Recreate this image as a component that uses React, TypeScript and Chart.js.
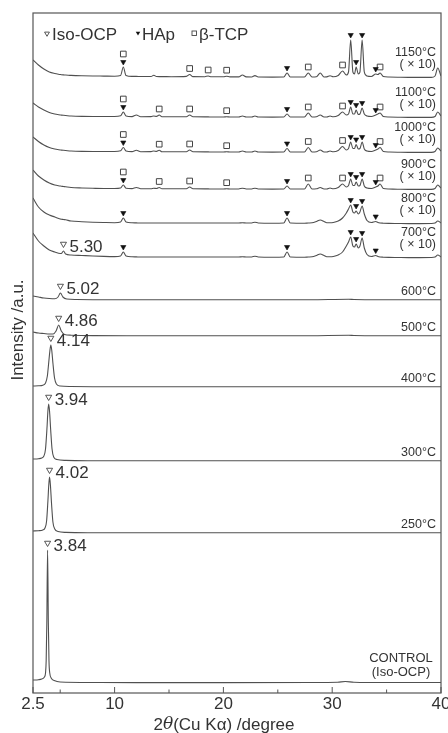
import React, { useEffect, useRef } from 'react';
import { Chart, registerables } from 'chart.js';

Chart.register(...registerables);

// ---------- data ----------
// shared 2θ grid for the heated (HAp / β-TCP) patterns
const HT_X = [
  2.5, 3, 3.5, 4, 4.5, 5, 5.1, 5.3, 5.5, 6,
  7, 8, 9, 10, 10.55, 10.8, 11.05, 11.6, 12.0, 12.4,
  13.35, 13.6, 13.85, 14.1, 14.35, 15.2, 16.6, 16.9, 17.2, 18.3,
  18.6, 18.9, 20.0, 20.3, 20.6, 21.4, 21.75, 22.1, 22.6, 22.9,
  23.2, 24.5, 25.55, 25.85, 26.15, 27.45, 27.8, 28.15, 28.55, 28.9,
  29.25, 29.5, 29.8, 30.1, 30.55, 30.95, 31.3, 31.5, 31.7, 31.9,
  32.05, 32.2, 32.4, 32.55, 32.75, 32.95, 33.2, 33.6, 34.0, 34.2,
  34.4, 34.7, 35.2, 36, 37, 38, 39.1, 39.45, 39.7, 40,
];

const I_1150 = [
  18, 13, 9, 6, 4.5, 3.5, 3.3, 3.1, 3, 2.6,
  2.2, 2, 1.9, 1.8, 2.5, 11, 2.5, 1.6, 1.6, 1.5,
  1.5, 2.8, 1.5, 1.4, 1.4, 1.3, 1.6, 3.5, 1.4, 1.3,
  2, 1.2, 1.2, 1.8, 1.1, 1.1, 3, 1.1, 1, 2.4,
  1, 0.9, 1, 5, 1, 1, 5, 1, 1.2, 5,
  1, 1.1, 2.2, 1.2, 2.5, 7, 3, 6, 38, 6,
  4, 11, 4, 6, 38, 6, 2, 1.5, 4, 3.5,
  5, 1.5, 1, 0.8, 0.6, 0.6, 0.6, 2, 10, 2,
];
const I_1100 = [
  15, 11, 8, 5.5, 4, 3, 2.9, 2.7, 2.5, 2,
  1.6, 1.5, 1.5, 1.5, 2.2, 6, 2, 1.4, 3, 1.3,
  1.4, 2, 1.6, 3, 1.3, 1.2, 1.3, 3, 1.2, 1.1,
  1.1, 1, 1, 1.3, 1, 1, 2, 1, 1, 2,
  1, 0.9, 1, 4, 1, 1, 5, 1, 1.2, 3,
  1, 1, 2, 1.2, 2.5, 6, 3, 4, 11, 4,
  4, 8, 3.5, 4, 10, 4, 2, 1.5, 3, 4,
  5, 1.5, 1, 0.8, 0.6, 0.6, 0.6, 1.5, 6, 2,
];
const I_1000 = [
  16, 11.5, 8, 5.5, 4, 3, 2.9, 2.7, 2.5, 2,
  1.6, 1.5, 1.5, 1.5, 2.2, 5.5, 2, 1.4, 2.8, 1.3,
  1.4, 2, 1.6, 2.8, 1.3, 1.2, 1.3, 3, 1.2, 1.1,
  1.1, 1, 1, 1.3, 1, 1, 2, 1, 1, 2,
  1, 0.9, 1, 4.5, 1, 1, 5.5, 1, 1.2, 3,
  1, 1, 2, 1.2, 2.5, 6.5, 3, 4.5, 11, 4.5,
  4.5, 8.5, 4, 4.5, 11, 4, 2, 1.5, 3, 4,
  5.5, 1.5, 1, 0.8, 0.6, 0.6, 0.6, 1.5, 5, 2,
];
const I_900 = [
  20, 14, 10, 7, 5, 4, 3.8, 3.5, 3.2, 2.5,
  2, 1.7, 1.5, 1.5, 2, 5, 1.8, 1.4, 2.5, 1.3,
  1.3, 1.8, 1.5, 2.5, 1.3, 1.2, 1.3, 3, 1.2, 1.1,
  1.1, 1, 1, 1.3, 1, 1, 1.8, 1, 1, 1.8,
  1, 0.9, 1, 4, 1, 1, 6, 1, 1.2, 2.5,
  1, 1, 2, 1.2, 2.5, 6, 3, 4.5, 11, 4.5,
  4.5, 8, 4, 4.5, 11, 4, 2, 1.5, 3, 4,
  6, 1.5, 1, 0.8, 0.6, 0.6, 0.6, 1.5, 5, 2,
];
const I_800 = [
  26, 17, 12, 9, 7, 5, 4.8, 4.5, 4.2, 3,
  2.3, 1.8, 1.5, 1.3, 2, 6, 2, 1.2, 1.1, 1,
  1, 1, 1, 1, 1, 1, 1, 1, 1, 1,
  1, 1, 1, 1, 1, 1, 1.3, 1, 1, 1.8,
  1, 0.8, 1, 6, 1, 0.8, 1, 1.2, 2.5, 4,
  2.5, 1.2, 1.2, 1.5, 3, 6, 11, 15, 19, 12,
  11, 13, 10, 12, 18, 10, 3.5, 1.5, 2.5, 1.5,
  1, 0.8, 0.6, 0.5, 0.4, 0.4, 0.5, 1, 3, 1,
];
const I_700 = [
  25, 17, 12, 8, 6, 4.5, 4.5, 7, 4, 3,
  2.5, 2, 1.6, 1.4, 2, 6, 2, 1.2, 1.1, 1,
  1, 1, 1, 1, 1, 1, 1, 1, 1, 1,
  1, 1, 1, 1, 1, 1, 1.3, 1, 1, 1.8,
  1, 0.8, 1, 6, 1, 0.8, 1, 1.2, 2.5, 4,
  2.5, 1.2, 1.2, 1.5, 3, 6, 12, 16, 21, 12,
  11, 14, 10, 12, 20, 10, 3.5, 1.5, 2.5, 1.5,
  1, 0.8, 0.6, 0.5, 0.4, 0.4, 0.5, 1, 3, 1,
];

const X_600 = [2.5, 3, 3.5, 4, 4.5, 4.8, 5.02, 5.25, 5.6, 6.5, 8, 12, 20, 28, 31.5, 32, 33, 36, 40];
const I_600 = [4, 3, 2, 1.5, 1.3, 3, 7, 3, 1, 0.5, 0.3, 0.2, 0.2, 0.3, 0.8, 0.5, 0.3, 0.2, 0.2];

const X_500 = [2.5, 3, 3.5, 4, 4.35, 4.62, 4.86, 5.1, 5.4, 6, 8, 12, 20, 28, 31.5, 32, 33, 36, 40];
const I_500 = [4, 3, 2.5, 2, 2, 5, 11, 5, 1.5, 0.8, 0.4, 0.3, 0.2, 0.3, 0.7, 0.5, 0.3, 0.2, 0.2];

const X_400 = [2.5, 3, 3.4, 3.65, 3.82, 3.95, 4.05, 4.14, 4.23, 4.33, 4.48, 4.65, 5, 6, 8, 12, 20, 30, 40];
const I_400 = [1, 1.2, 1.8, 4, 11, 25, 36, 42, 36, 24, 9, 3, 1, 0.5, 0.3, 0.2, 0.2, 0.2, 0.2];

const X_300 = [2.5, 3, 3.3, 3.5, 3.65, 3.78, 3.87, 3.94, 4.02, 4.12, 4.25, 4.4, 4.7, 5.5, 8, 12, 20, 30, 40];
const I_300 = [2, 2.3, 3, 5, 12, 32, 50, 57, 50, 32, 12, 4, 1.5, 0.6, 0.3, 0.2, 0.2, 0.3, 0.2];

const X_250 = [2.5, 3, 3.4, 3.6, 3.75, 3.87, 3.95, 4.02, 4.1, 4.2, 4.33, 4.5, 4.8, 5.5, 8, 12, 20, 30, 40];
const I_250 = [2, 2.3, 3, 5, 12, 32, 48, 56, 48, 30, 11, 4, 1.5, 0.6, 0.3, 0.2, 0.2, 0.3, 0.2];

const X_CTRL = [2.5, 3, 3.3, 3.55, 3.65, 3.71, 3.77, 3.84, 3.91, 3.97, 4.04, 4.2, 4.45, 5, 8, 12, 20, 28, 30.5, 31.2, 32, 35, 40];
const I_CTRL = [3, 3.3, 4, 6, 10, 22, 60, 133, 60, 22, 10, 4.5, 2.5, 1, 0.5, 0.4, 0.4, 0.5, 0.8, 1.5, 0.8, 0.5, 0.5];

const TRACE_NAMES = ['1150°C', '1100°C', '1000°C', '900°C', '800°C', '700°C', '600°C', '500°C', '400°C', '300°C', '250°C', 'CONTROL'];
const TRACE_X = [HT_X, HT_X, HT_X, HT_X, HT_X, HT_X, X_600, X_500, X_400, X_300, X_250, X_CTRL];
const TRACE_I = [I_1150, I_1100, I_1000, I_900, I_800, I_700, I_600, I_500, I_400, I_300, I_250, I_CTRL];
const TRACE_OFFSETS = [615, 575, 540, 503, 469, 435, 393, 357, 306, 232, 160, 10];
const SCALED_NOTE = '( × 10)';
const SCALED_COUNT = 6;
const CONTROL_NOTE = '(Iso-OCP)';

const HAP_PEAKS = [10.8, 25.85, 31.7, 32.2, 32.75, 34.0];
const HAP_TRACES = [0, 1, 2, 3, 4, 5];
const TCP_PEAKS_1150 = [10.8, 16.9, 18.6, 20.3, 27.8, 30.95, 34.4];
const TCP_PEAKS_900_1100 = [10.8, 14.1, 16.9, 20.3, 27.8, 30.95, 34.4];
const TCP_PEAKS_BY_TRACE = [TCP_PEAKS_1150, TCP_PEAKS_900_1100, TCP_PEAKS_900_1100, TCP_PEAKS_900_1100];

const OCP_TRACES = [5, 6, 7, 8, 9, 10, 11];
const OCP_PEAKS = [5.30, 5.02, 4.86, 4.14, 3.94, 4.02, 3.84];
const OCP_LABELS = ['5.30', '5.02', '4.86', '4.14', '3.94', '4.02', '3.84'];

const LEGEND_LABELS = ['Iso-OCP', 'HAp', 'β-TCP'];

const X_MIN = 2.5;
const X_MAX = 40;
const Y_MAX = 680;
const TICK_VALUES = [2.5, 10, 20, 30, 40];
const TICK_LABELS = ['2.5', '10', '20', '30', '40'];
const MINOR_TICKS = [5, 15, 25, 35];

// ---------- helpers ----------
const FONT = "'Liberation Sans', Arial, Helvetica, sans-serif";
const LINE = '#505050';
const TEXT = '#333333';

function peakTop(ti: number, pos: number): number {
  const xs = TRACE_X[ti];
  const ys = TRACE_I[ti];
  let best = -Infinity;
  for (let i = 0; i < xs.length; i++) {
    if (Math.abs(xs[i] - pos) <= 0.11) best = Math.max(best, ys[i]);
  }
  if (best === -Infinity) {
    for (let i = 0; i < xs.length - 1; i++) {
      if (xs[i] <= pos && xs[i + 1] >= pos) {
        const t = (pos - xs[i]) / (xs[i + 1] - xs[i]);
        best = ys[i] + t * (ys[i + 1] - ys[i]);
      }
    }
  }
  return best + TRACE_OFFSETS[ti];
}

function drawTri(ctx: CanvasRenderingContext2D, x: number, y: number, r: number, filled: boolean) {
  ctx.beginPath();
  ctx.moveTo(x - r * 0.866, y - r * 0.5);
  ctx.lineTo(x + r * 0.866, y - r * 0.5);
  ctx.lineTo(x, y + r);
  ctx.closePath();
  if (filled) {
    ctx.fillStyle = '#111';
    ctx.fill();
  } else {
    ctx.fillStyle = '#fff';
    ctx.fill();
    ctx.strokeStyle = '#444';
    ctx.lineWidth = 0.9;
    ctx.stroke();
  }
}

const decorPlugin = {
  id: 'decor',
  afterDraw(chart: any) {
    const { ctx, chartArea: a } = chart;
    const sx = chart.scales.x;
    const sy = chart.scales.y;
    ctx.save();
    // frame
    ctx.strokeStyle = '#555';
    ctx.lineWidth = 1.2;
    ctx.strokeRect(a.left, a.top, a.right - a.left, a.bottom - a.top);
    // ticks (inside)
    ctx.lineWidth = 1;
    TICK_VALUES.forEach((v) => {
      const px = sx.getPixelForValue(v);
      ctx.beginPath();
      ctx.moveTo(px, a.bottom);
      ctx.lineTo(px, a.bottom - 6);
      ctx.stroke();
    });
    MINOR_TICKS.forEach((v) => {
      const px = sx.getPixelForValue(v);
      ctx.beginPath();
      ctx.moveTo(px, a.bottom);
      ctx.lineTo(px, a.bottom - 3.5);
      ctx.stroke();
    });
    // tick labels
    ctx.fillStyle = TEXT;
    ctx.font = `17px ${FONT}`;
    ctx.textAlign = 'center';
    ctx.textBaseline = 'middle';
    TICK_VALUES.forEach((v, i) => {
      ctx.fillText(TICK_LABELS[i], sx.getPixelForValue(v), a.bottom + 11);
    });
    // x title with italic theta
    const parts = [
      { t: '2', f: `17px ${FONT}` },
      { t: 'θ', f: `italic 17px 'DejaVu Serif', serif` },
      { t: '(Cu Kα) /degree', f: `17px ${FONT}` },
    ];
    let total = 0;
    parts.forEach((p) => {
      ctx.font = p.f;
      total += ctx.measureText(p.t).width;
    });
    let cx = (a.left + a.right) / 2 - 13 - total / 2;
    ctx.textAlign = 'left';
    parts.forEach((p) => {
      ctx.font = p.f;
      ctx.fillText(p.t, cx, a.bottom + 32);
      cx += ctx.measureText(p.t).width;
    });
    // y title
    ctx.save();
    ctx.translate(18, (a.top + a.bottom) / 2 - 23);
    ctx.rotate(-Math.PI / 2);
    ctx.font = `17px ${FONT}`;
    ctx.textAlign = 'center';
    ctx.fillText('Intensity /a.u.', 0, 0);
    ctx.restore();
    // legend
    const ly = a.top + 22;
    ctx.font = `17px ${FONT}`;
    ctx.textAlign = 'left';
    drawTri(ctx, a.left + 14, ly - 1.5, 2.8, false);
    ctx.fillStyle = TEXT;
    ctx.fillText(LEGEND_LABELS[0], a.left + 19, ly);
    drawTri(ctx, a.left + 105, ly - 2, 2.6, true);
    ctx.fillStyle = TEXT;
    ctx.fillText(LEGEND_LABELS[1], a.left + 109, ly);
    ctx.strokeStyle = '#444';
    ctx.lineWidth = 0.9;
    ctx.strokeRect(a.left + 159, ly - 4, 4.5, 4.5);
    ctx.fillStyle = TEXT;
    ctx.fillText(LEGEND_LABELS[2], a.left + 166, ly);
    // temperature labels
    ctx.textAlign = 'right';
    ctx.font = `12.5px ${FONT}`;
    for (let i = 0; i < TRACE_NAMES.length - 1; i++) {
      const by = sy.getPixelForValue(TRACE_OFFSETS[i]);
      if (i < SCALED_COUNT) {
        ctx.fillText(TRACE_NAMES[i], a.right - 5, by - 25);
        ctx.fillText(SCALED_NOTE, a.right - 5, by - 13);
      } else {
        ctx.fillText(TRACE_NAMES[i], a.right - 5, by - 8);
      }
    }
    const cb = sy.getPixelForValue(TRACE_OFFSETS[TRACE_OFFSETS.length - 1]);
    ctx.textAlign = 'center';
    ctx.font = `13px ${FONT}`;
    ctx.fillText(TRACE_NAMES[TRACE_NAMES.length - 1], a.right - 40, cb - 25);
    ctx.fillText(CONTROL_NOTE, a.right - 40, cb - 11);
    // Iso-OCP peak labels
    ctx.textAlign = 'left';
    ctx.font = `17px ${FONT}`;
    OCP_PEAKS.forEach((p, k) => {
      const ti = OCP_TRACES[k];
      const px = sx.getPixelForValue(p);
      const py = sy.getPixelForValue(peakTop(ti, p) + 7);
      ctx.fillText(OCP_LABELS[k], px + 6, py + 3);
    });
    ctx.restore();
  },
};

export default function App() {
  const ref = useRef<HTMLCanvasElement | null>(null);
  useEffect(() => {
    if (!ref.current) return;
    const datasets: any[] = [];
    TRACE_X.forEach((xs, ti) => {
      datasets.push({
        data: xs.map((x, i) => ({ x, y: TRACE_I[ti][i] + TRACE_OFFSETS[ti] })),
        borderColor: LINE,
        borderWidth: 1.1,
        pointRadius: 0,
        cubicInterpolationMode: 'monotone',
        fill: false,
        order: 2,
      });
    });
    const hap: any[] = [];
    HAP_TRACES.forEach((ti) => {
      HAP_PEAKS.forEach((p) => hap.push({ x: p, y: peakTop(ti, p) + 5 }));
    });
    const tcp: any[] = [];
    TCP_PEAKS_BY_TRACE.forEach((peaks, ti) => {
      peaks.forEach((p) => {
        const stacked = HAP_PEAKS.includes(p) && HAP_TRACES.includes(ti);
        tcp.push({ x: p, y: peakTop(ti, p) + (stacked ? 13 : 6) });
      });
    });
    const ocp = OCP_PEAKS.map((p, k) => ({ x: p, y: peakTop(OCP_TRACES[k], p) + 7 }));
    datasets.push({
      data: hap,
      showLine: false,
      pointStyle: 'triangle',
      pointRotation: 180,
      pointRadius: 3,
      pointBackgroundColor: '#111',
      pointBorderColor: '#111',
      pointBorderWidth: 0.6,
      order: 1,
    });
    datasets.push({
      data: tcp,
      showLine: false,
      pointStyle: 'rect',
      pointRadius: 4,
      pointBackgroundColor: '#fff',
      pointBorderColor: '#444',
      pointBorderWidth: 1,
      order: 1,
    });
    datasets.push({
      data: ocp,
      showLine: false,
      pointStyle: 'triangle',
      pointRotation: 180,
      pointRadius: 3.5,
      pointBackgroundColor: '#fff',
      pointBorderColor: '#444',
      pointBorderWidth: 0.9,
      order: 1,
    });
    const chart = new Chart(ref.current, {
      type: 'line',
      data: { datasets },
      options: {
        animation: false,
        responsive: false,
        maintainAspectRatio: false,
        layout: { padding: { left: 33, right: 7, top: 13, bottom: 40 } },
        scales: {
          x: { type: 'linear', min: X_MIN, max: X_MAX, display: false },
          y: { type: 'linear', min: 0, max: Y_MAX, display: false },
        },
        plugins: { legend: { display: false }, tooltip: { enabled: false } },
      },
      plugins: [decorPlugin],
    } as any);
    return () => chart.destroy();
  }, []);
  return (
    <div style={{ position: 'fixed', left: 0, top: 0, width: 448, height: 733, background: '#fff' }}>
      <canvas ref={ref} width={448} height={733} style={{ width: 448, height: 733, display: 'block' }} />
    </div>
  );
}
